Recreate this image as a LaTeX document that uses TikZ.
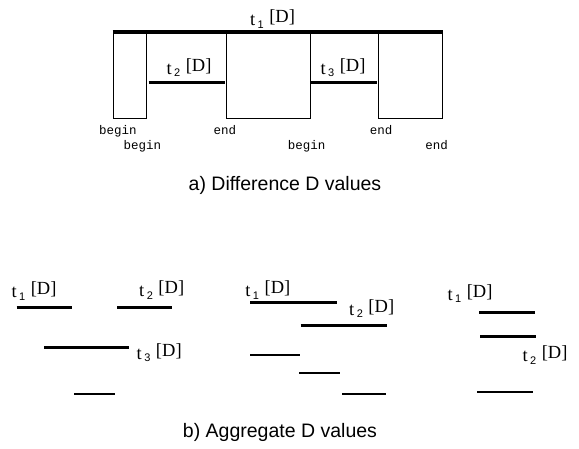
\documentclass[tikz,border=0pt]{standalone}
\usepackage{fontspec}
\setmainfont{Liberation Serif}
\setsansfont{Liberation Sans}
\setmonofont{Liberation Mono}
% interval label: t, sans subscript index, raised [D]
\newcommand\tlab[1]{t\kern2.5pt\raisebox{-2.5pt}{\sffamily\fontsize{11}{11}\selectfont #1}\kern5.5pt\raisebox{3pt}{[D]}}
\tikzset{
  interval/.style={line width=3pt},
  thinbar/.style={line width=1.3pt},
  boxline/.style={line width=1pt},
  tlabel/.style={anchor=base, inner sep=0pt, font=\fontsize{18.5}{21}\selectfont},
  endpt/.style={anchor=base, inner sep=0pt, font=\ttfamily\fontsize{12.5}{14}\selectfont},
  caption/.style={anchor=base, inner sep=0pt, font=\sffamily\fontsize{19.5}{22}\selectfont}
}
\begin{document}
\begin{tikzpicture}[x=1pt,y=-1pt]
\path[use as bounding box] (0,0) rectangle (579,448);

% ---- a) difference values ----
\draw[line width=3.3pt] (112.5,32) -- (443,32);
\draw[boxline] (113.5,32) -- (113.5,118.5) -- (146.5,118.5) -- (146.5,32);
\draw[boxline] (226.5,32) -- (226.5,118.5) -- (310.5,118.5) -- (310.5,32);
\draw[boxline] (378.5,32) -- (378.5,118.5) -- (442.5,118.5) -- (442.5,32);
\draw[line width=2.7pt] (148.5,82.7) -- (225,82.7);
\draw[line width=2.7pt] (311,82.7) -- (377,82.7);

\node[tlabel] (a1) at (272.5,25.5) {\tlab{1}};
\node[tlabel] (a2) at (189,74) {\tlab{2}};
\node[tlabel] (a3) at (343,74) {\tlab{3}};

\node[endpt] (b1) at (117.8,134) {begin};
\node[endpt] (b2) at (142.5,149) {begin};
\node[endpt] (e1) at (225,134) {end};
\node[endpt] (b3) at (306.7,149) {begin};
\node[endpt] (e2) at (381,134) {end};
\node[endpt] (e3) at (436.7,149) {end};

\node[caption] (capa) at (285,190.7) {a) Difference D values};

% ---- b) aggregate values ----
% group 1
\draw[interval] (16.7,307.5) -- (72.3,307.5);
\draw[interval] (117.3,307.5) -- (172.3,307.5);
\draw[interval] (44.3,347.5) -- (129.3,347.5);
\draw[thinbar] (74,394) -- (115,394);
\node[tlabel] (g1a) at (34,297.7) {\tlab{1}};
\node[tlabel] (g1b) at (161.7,296.7) {\tlab{2}};
\node[tlabel] (g1c) at (159.2,359.3) {\tlab{3}};

% group 2
\draw[interval] (250,302.5) -- (337.3,302.5);
\draw[interval] (300.7,325.5) -- (387.3,325.5);
\draw[thinbar] (250,355) -- (300,355);
\draw[thinbar] (299.3,373) -- (340,373);
\draw[thinbar] (342.3,394) -- (385.7,394);
\node[tlabel] (g2a) at (267.8,296.7) {\tlab{1}};
\node[tlabel] (g2b) at (371.7,315) {\tlab{2}};

% group 3
\draw[interval] (479.3,312.5) -- (535,312.5);
\draw[interval] (480,336.5) -- (535.7,336.5);
\draw[thinbar] (477.3,392) -- (532.7,392);
\node[tlabel] (g3a) at (470,300) {\tlab{1}};
\node[tlabel] (g3b) at (545,361.7) {\tlab{2}};

\node[caption] (capb) at (280,437.3) {b) Aggregate D values};
\end{tikzpicture}
\end{document}
